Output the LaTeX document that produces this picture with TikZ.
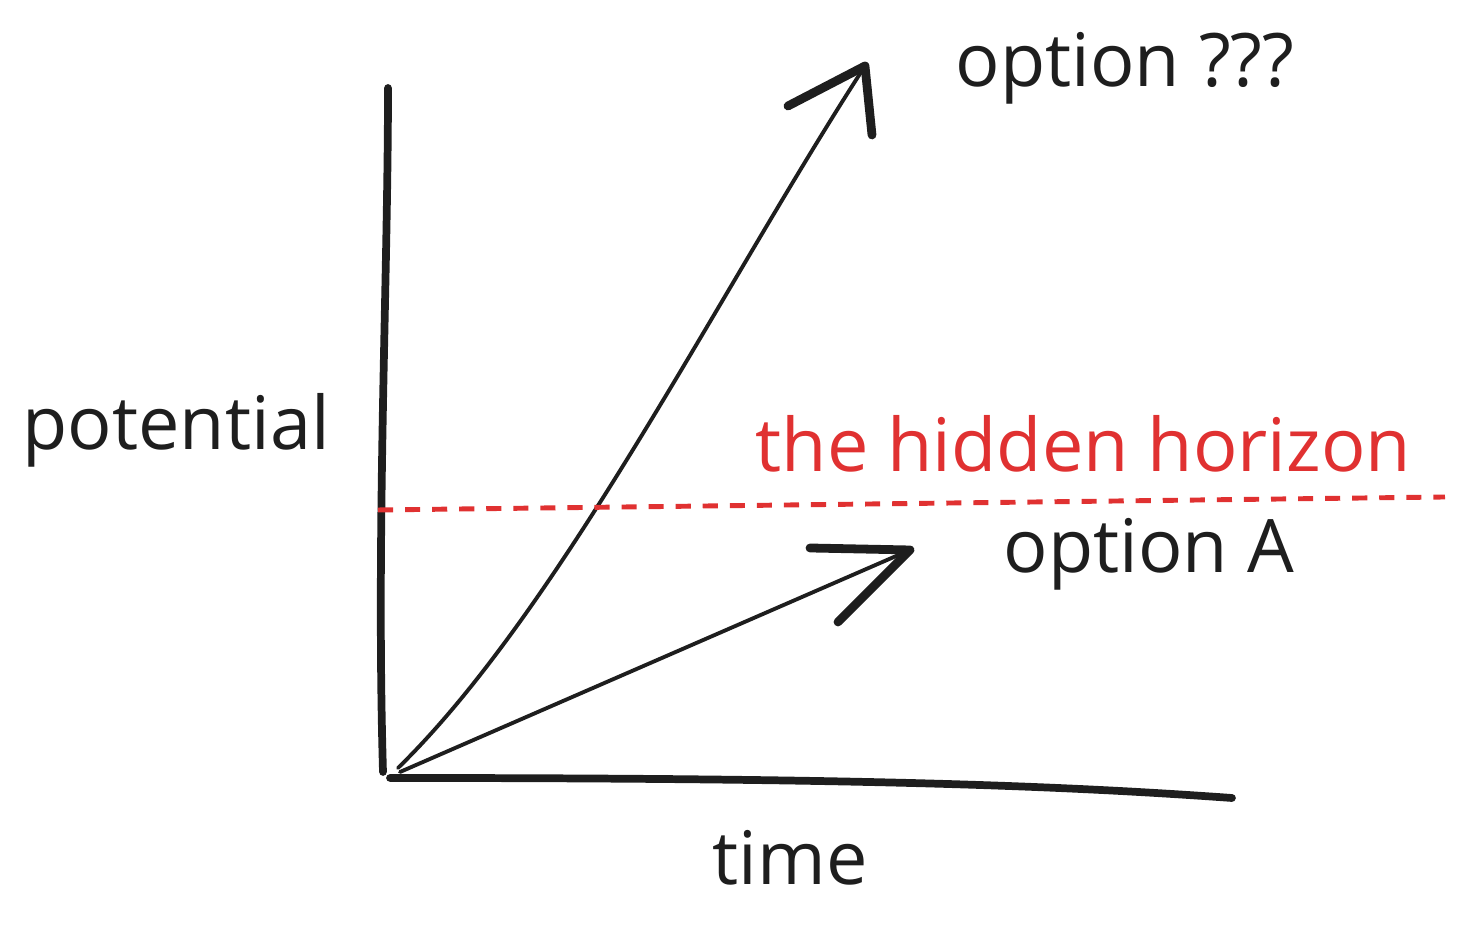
\documentclass[tikz,border=0pt]{standalone}
\usepackage{fontspec}
\setmainfont{Open Sans}
\usepackage{xcolor}
\usepackage{tikz}

\definecolor{ink}{HTML}{1E1E1E}
\definecolor{horizonred}{HTML}{E03131}

\tikzset{
  axis/.style={ink, line width=2.2pt, line cap=round, line join=round},
  shaft/.style={ink, line width=1.1pt, line cap=round},
  barb/.style={ink, line width=2.5pt, line cap=round, line join=round},
  horizon/.style={horizonred, line width=1.4pt, dash pattern=on 4.3pt off 3.4pt},
  label/.style={anchor=base west, inner sep=0pt, font=\fontsize{21}{25}\selectfont},
}

\begin{document}
\begin{tikzpicture}
  \def\width{14.71}
  \def\height{9.30}
  \useasboundingbox (0,0) rectangle (\width,\height);

  \coordinate (ybottom) at (3.83,1.58);
  \coordinate (ytop) at (3.88,8.42);
  \coordinate (xstart) at (3.90,1.52);
  \coordinate (xend) at (12.32,1.32);

  \draw[axis] (ybottom) .. controls (3.76,4.0) and (3.88,6.5) .. (ytop);
  \draw[axis] (xstart) .. controls (8.5,1.52) and (10.5,1.45) .. (xend);

  \coordinate (startq) at (3.98,1.62);
  \coordinate (tipq) at (8.65,8.64);
  \coordinate (startA) at (4.00,1.58);
  \coordinate (tipA) at (9.10,3.80);

  \draw[shaft] (startq) .. controls (5.6,3.2) and (7.2,6.4) .. (tipq);
  \draw[barb] (7.88,8.24) -- (tipq) -- (8.72,7.95);

  \draw[shaft] (startA) -- (tipA);
  \draw[barb] (8.10,3.82) -- (tipA) -- (8.38,3.08);

  \coordinate (horizonleft) at (3.78,4.20);
  \coordinate (horizonright) at (14.45,4.33);
  \draw[horizon] (horizonleft) -- (horizonright);

  \node[label, ink] (potential) at (0.22,4.80) {potential};
  \node[label, ink] (time) at (7.12,0.45) {time};
  \node[label, ink] (optionq) at (9.55,8.43) {option ???};
  \node[label, ink] (optionA) at (10.03,3.57) {option A};
  \node[label, horizonred] (hidden) at (7.55,4.58) {the hidden horizon};
\end{tikzpicture}
\end{document}
